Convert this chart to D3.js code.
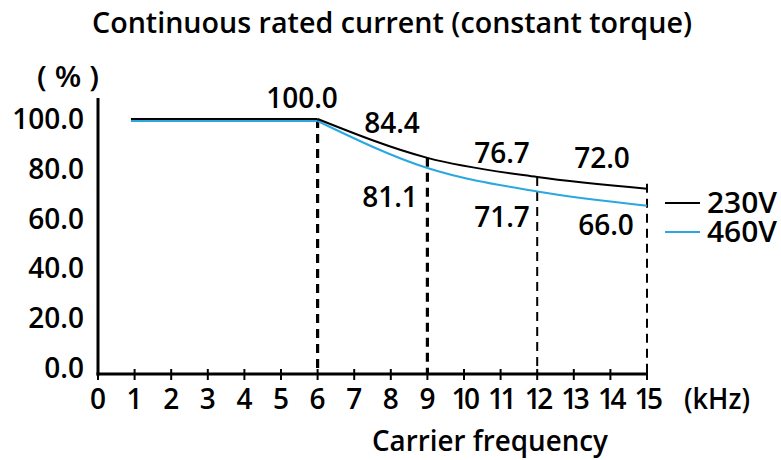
<!DOCTYPE html>
<html>
<head>
<meta charset="utf-8">
<script src="https://cdn.jsdelivr.net/npm/d3@7"></script>
<style>
  body { margin: 0; background: #fff; }
  svg text { font-family: "Open Sans", "Noto Sans", sans-serif; font-weight: 600; fill: #000; }
</style>
</head>
<body>
<div id="chart"></div>
<script>
"use strict";

// Chart data
const title = 'Continuous rated current (constant torque)';
const xTicks = d3.range(0, 16);
const yTicks = [0, 20, 40, 60, 80, 100];
const freq = [0.9, 6, 9, 12, 15];
const series230 = [100, 100, 84.4, 76.7, 72.0];
const series460 = [100, 100, 81.1, 71.7, 66.0];
const markFreq = [6, 9, 12, 15];

const width = 781, height = 460;
const axisY = 374;

const svg = d3.select('#chart').append('svg')
	.attr('width', width)
	.attr('height', height);

const x = d3.scaleLinear().domain([0, 15]).range([98, 647]);
const y = d3.scaleLinear().domain([0, 100]).range([368, 119]);

//  Title and axis captions
svg.append('text')
	.attr('x', 392).attr('y', 33)
	.attr('text-anchor', 'middle')
	.attr('font-size', 28)
	.attr('textLength', 600)
	.attr('lengthAdjust', 'spacingAndGlyphs')
	.text(title);

svg.append('text')
	.attr('x', 68).attr('y', 87)
	.attr('text-anchor', 'middle')
	.attr('font-size', 28)
	.attr('textLength', 62)
	.attr('lengthAdjust', 'spacingAndGlyphs')
	.text('( % )');

svg.append('text')
	.attr('x', 490).attr('y', 451)
	.attr('text-anchor', 'middle')
	.attr('font-size', 28)
	.attr('textLength', 236)
	.attr('lengthAdjust', 'spacingAndGlyphs')
	.text('Carrier frequency');

svg.append('text')
	.attr('x', 684).attr('y', 409)
	.attr('font-size', 28)
	.attr('textLength', 66)
	.attr('lengthAdjust', 'spacingAndGlyphs')
	.text('(kHz)');

//  Axes
svg.append('line')
	.attr('x1', x(0)).attr('x2', x(0))
	.attr('y1', 98).attr('y2', axisY + 1.5)
	.attr('stroke', '#000').attr('stroke-width', 3);

svg.append('line')
	.attr('x1', x(0) - 1.5).attr('x2', x(15))
	.attr('y1', axisY).attr('y2', axisY)
	.attr('stroke', '#000').attr('stroke-width', 3);

svg.selectAll('.xtick')
	.data(xTicks)
	.join('line')
	.classed('xtick', true)
	.attr('x1', d => x(d)).attr('x2', d => x(d))
	.attr('y1', axisY - 5).attr('y2', axisY + 6)
	.attr('stroke', '#000').attr('stroke-width', 2);

svg.selectAll('.xlabel')
	.data(xTicks)
	.join('text')
	.classed('xlabel', true)
	.attr('x', d => x(d))
	.attr('y', 409)
	.attr('text-anchor', 'middle')
	.attr('font-size', 28)
	.attr('letter-spacing', d => d >= 10 ? -3.5 : 0)
	.text(d => d);

svg.selectAll('.ylabel')
	.data(yTicks)
	.join('text')
	.classed('ylabel', true)
	.attr('x', 84)
	.attr('y', d => y(d) + 10)
	.attr('text-anchor', 'end')
	.attr('font-size', 28)
	.text(d => d.toFixed(1));

//  Dashed guides
svg.selectAll('.guide')
	.data(markFreq)
	.join('line')
	.classed('guide', true)
	.attr('x1', d => x(d)).attr('x2', d => x(d))
	.attr('y1', (d, i) => y(series230[i + 1]) - (d === 15 ? 5 : 0))
	.attr('y2', axisY)
	.attr('stroke', '#000')
	.attr('stroke-width', d => d <= 9 ? 3.2 : 2)
	.attr('stroke-dasharray', '9,6');

//  Lines
function drawSeries(values, color, offset)
{
	const pts = freq.map((f, i) => [x(f), y(values[i]) + offset]);
	const g = svg.append('g');
	g.append('path')
		.attr('d', d3.line()(pts.slice(0, 2)))
		.attr('fill', 'none').attr('stroke', color).attr('stroke-width', 2);
	g.append('path')
		.attr('d', d3.line().curve(d3.curveMonotoneX)(pts.slice(1)))
		.attr('fill', 'none').attr('stroke', color).attr('stroke-width', 2);
}

drawSeries(series460, '#29a8e0', 2);
drawSeries(series230, '#000', 0);

//  Value labels
svg.selectAll('.lab230')
	.data(series230.slice(1))
	.join('text')
	.classed('lab230', true)
	.attr('x', (d, i) => [302, 392, 502, 602][i])
	.attr('y', (d, i) => [108, 133, 163, 168][i])
	.attr('text-anchor', 'middle')
	.attr('font-size', 28)
	.text(d => d.toFixed(1));

svg.selectAll('.lab460')
	.data(series460.slice(2))
	.join('text')
	.classed('lab460', true)
	.attr('x', (d, i) => [390, 502, 606][i])
	.attr('y', (d, i) => [207, 227, 235][i])
	.attr('text-anchor', 'middle')
	.attr('font-size', 28)
	.text(d => d.toFixed(1));

//  Legend
const legend = [['230V', '#000', 203], ['460V', '#29a8e0', 232]];
legend.forEach(([name, color, ly]) => {
	svg.append('line')
		.attr('x1', 665).attr('x2', 700)
		.attr('y1', ly).attr('y2', ly)
		.attr('stroke', color).attr('stroke-width', 2);
	svg.append('text')
		.attr('x', 707).attr('y', ly + 10)
		.attr('font-size', 28)
		.attr('textLength', 70)
		.attr('lengthAdjust', 'spacingAndGlyphs')
		.text(name);
});
</script>
</body>
</html>
